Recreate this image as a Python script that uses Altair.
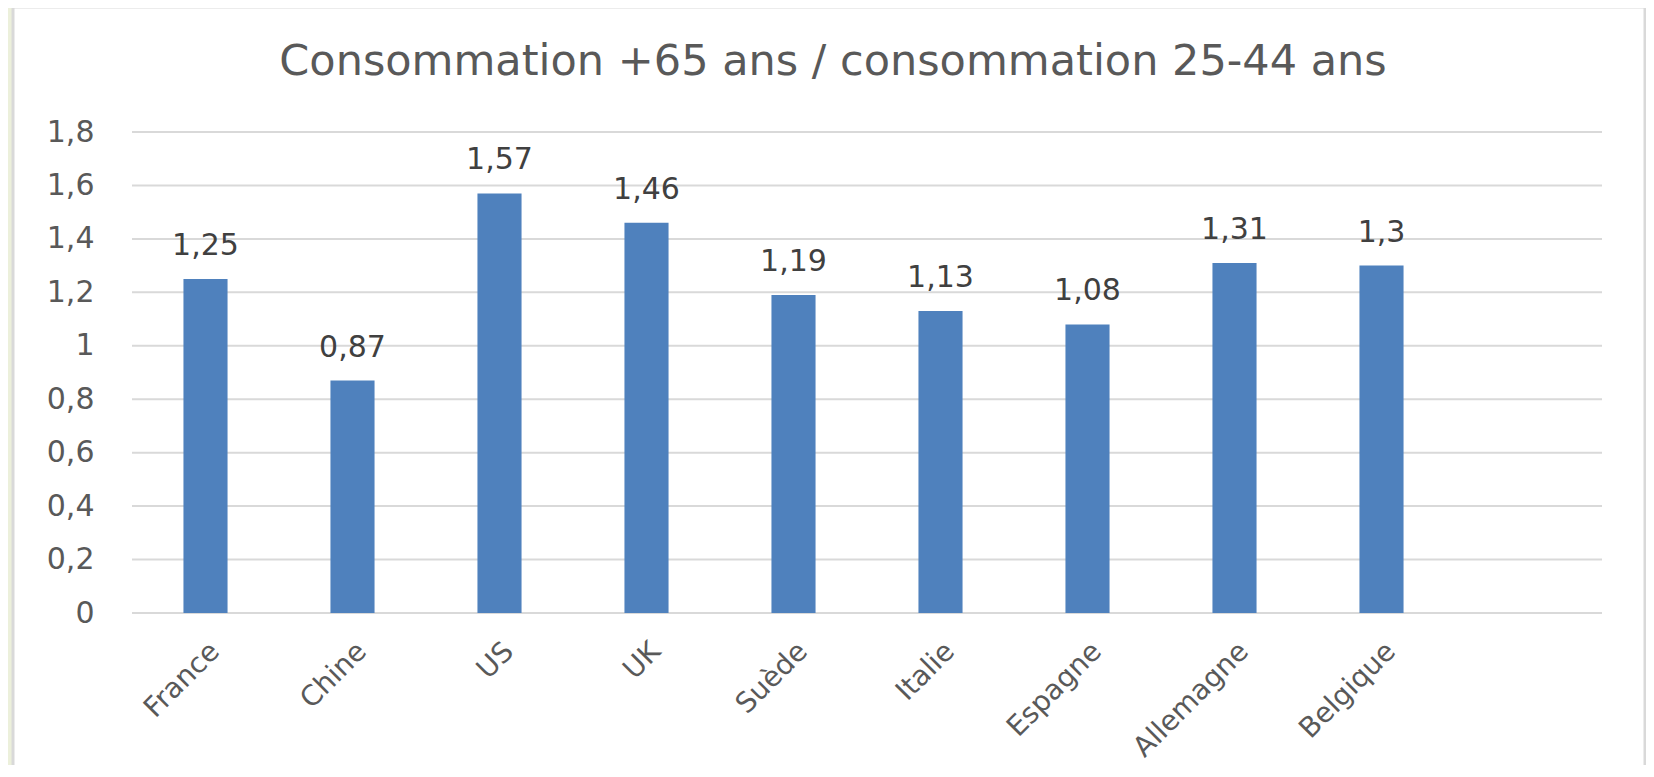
import altair as alt
import pandas as pd

countries = ["France", "Chine", "US", "UK", "Suède", "Italie", "Espagne", "Allemagne", "Belgique"]
values = [1.25, 0.87, 1.57, 1.46, 1.19, 1.13, 1.08, 1.31, 1.3]
y_ticks = [0, 0.2, 0.4, 0.6, 0.8, 1.0, 1.2, 1.4, 1.6, 1.8]
title_text = "Consommation +65 ans / consommation 25-44 ans"

df = pd.DataFrame({"pays": countries, "val": values})
grid_df = pd.DataFrame({"t": y_ticks})
domain = countries + [" "]

W, H = 1470, 481
FONT = "DejaVu Sans"
TXT = "#595959"

x_scale = alt.Scale(domain=domain, paddingInner=0.7, paddingOuter=0.35)
y_scale = alt.Scale(domain=[0, 1.8], nice=False)

x_enc = alt.X("pays:N", sort=domain, scale=x_scale,
              axis=alt.Axis(title=None, labelAngle=-45, labelFontSize=28, labelFont=FONT,
                            labelColor=TXT, ticks=False, domain=False, labelPadding=24,
                            grid=False, zindex=2))
y_enc = alt.Y("val:Q", scale=y_scale,
              axis=alt.Axis(title=None, values=y_ticks, labelFontSize=30, labelFont=FONT,
                            labelColor=TXT, ticks=False, domain=False, labelPadding=38,
                            grid=False, zindex=2,
                            labelExpr="replace(format(datum.value, '~g'), '.', ',')"))

panel = alt.Chart(pd.DataFrame({"a": [0]})).mark_rect(
    fill="white", stroke="#D9D9D9", strokeWidth=3
).encode(x=alt.value(-119), x2=alt.value(W + 43), y=alt.value(-125), y2=alt.value(H + 200))

grid = alt.Chart(grid_df).mark_rule(color="#D9D9D9", strokeWidth=2).encode(
    y=alt.Y("t:Q", scale=y_scale))

bars = alt.Chart(df).mark_bar(color="#4F81BD").encode(x=x_enc, y=y_enc)

labels = alt.Chart(df).transform_calculate(
    lab="replace(toString(datum.val), '.', ',')"
).mark_text(fontSize=30, font=FONT, color="#404040", baseline="alphabetic", dy=-24).encode(
    x=alt.X("pays:N", sort=domain, scale=x_scale),
    y=alt.Y("val:Q", scale=y_scale), text="lab:N")

chart = alt.layer(panel, grid, bars, labels).properties(
    width=W, height=H,
    title=alt.TitleParams(title_text, fontSize=43, font=FONT, color=TXT, fontWeight="normal",
                          anchor="middle", dx=-34, offset=0, dy=112, baseline="alphabetic"),
    autosize=alt.AutoSizeParams(type="none"),
    padding={"left": 124, "top": 124, "right": 44, "bottom": 152},
    background="#ECF0DB",
).configure_view(stroke=None)

chart.save("out.html", embed_options={"renderer": "svg", "actions": False})
